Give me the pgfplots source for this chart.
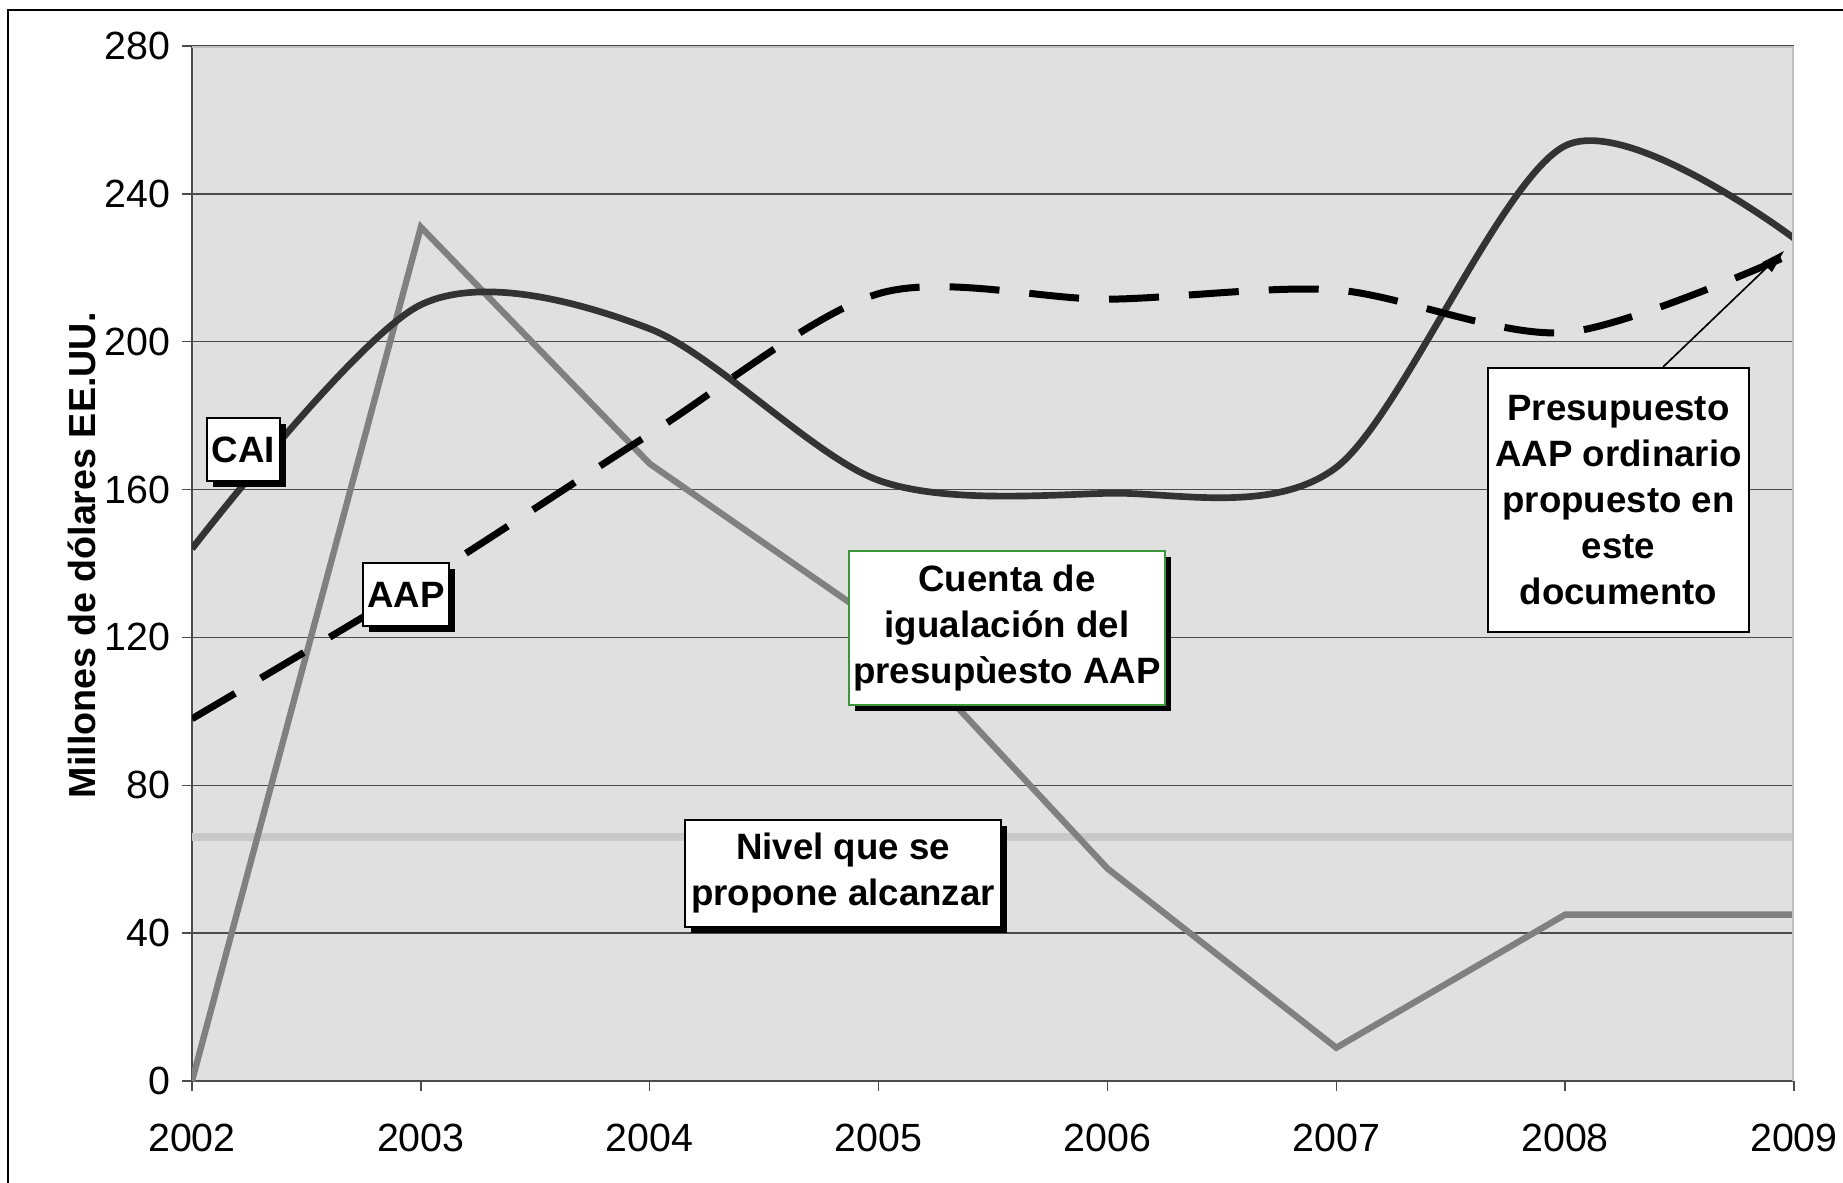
\documentclass[border=0pt]{standalone}
\usepackage{fontspec}
\setmainfont{Liberation Sans}
\usepackage{pgfplots}
\pgfplotsset{compat=1.18}
\usetikzlibrary{arrows.meta}
\definecolor{bgtex}{RGB}{224,224,224}
\definecolor{caic}{RGB}{51,51,51}
\definecolor{cuentac}{RGB}{128,128,128}
\definecolor{nivelc}{RGB}{200,200,200}
\definecolor{bordc}{RGB}{192,192,192}
\definecolor{boxgreen}{RGB}{60,150,60}
\newcommand{\shbox}[6]{%
  \fill[black] (#1+6,#2+6) rectangle (#3+6,#4+6);
  \draw[fill=white, draw=#5, line width=0.45pt] (#1,#2) rectangle (#3,#4);
  \node[align=center, font=\fontsize{11}{13.8}\selectfont\bfseries, inner sep=0pt] at ({(#1+#3)/2},{(#2+#4)/2}) {#6};
}
\begin{document}
\begin{tikzpicture}[x=0.3pt,y=-0.3pt,font=\fontsize{11.3}{13.8}\selectfont]
\useasboundingbox (0,0) rectangle (1843,1182);
\draw[line width=0.6pt] (8,1200) -- (8,10) -- (1870,10);
\begin{axis}[
  at={(57.6pt,-324.3pt)}, anchor=south west,
  scale only axis, width=480.6pt, height=310.5pt,
  xmin=2002, xmax=2009, ymin=0, ymax=280,
  xtick={2002,2003,2004,2005,2006,2007,2008,2009},
  ytick={0,40,80,120,160,200,240,280},
  axis background/.style={fill=bgtex},
  axis x line*=bottom, axis y line*=left,
  axis line style={-, black!70, line width=0.45pt},
  tick align=outside, major tick length=3pt,
  tick style={black!70, line width=0.45pt},
  ymajorgrids, grid style={black!70, line width=0.45pt},
  /pgf/number format/assume math mode=true,
  xticklabel style={/pgf/number format/1000 sep={}, font=\fontsize{11.8}{13.8}\selectfont, yshift=-6.5pt},
  yticklabel style={font=\fontsize{11.8}{13.8}\selectfont},
  ylabel={\bfseries Millones de dólares EE.UU.},
  every axis y label/.style={at={(axis description cs:-0.0687,0.508)}, anchor=center, rotate=90, font=\fontsize{11.3}{13.8}\selectfont},
]
\addplot[nivelc, line width=2.3pt] coordinates {(2002,66) (2009,66)};
\addplot[cuentac, line width=1.9pt] coordinates {(2002,0) (2003,231) (2004,167) (2005,124) (2006,57.5) (2007,9) (2008,45) (2009,45)};
\addplot[caic, line width=2pt, smooth] coordinates {(2002,144) (2003,210) (2004,203.5) (2005,162.5) (2006,159) (2007,166) (2008,253) (2009,228)};
\addplot[black, line width=2.1pt, smooth, dash pattern=on 15pt off 9pt] coordinates {(2002,98) (2003,135) (2004,175) (2005,213) (2006,211.5) (2007,214) (2008,202.5) (2009,224)};
\draw[bordc, line width=0.9pt] (rel axis cs:0,1) -- (rel axis cs:1,1) -- (rel axis cs:1,0);
\end{axis}
\shbox{207}{418}{280}{481}{black}{CAI}
\shbox{363}{563}{449}{626}{black}{AAP}
\shbox{849}{551}{1165}{705}{boxgreen}{Cuenta de\\igualación del\\presupùesto AAP}
\shbox{685}{820}{1001}{927}{black}{Nivel que se\\propone alcanzar}
\draw[fill=white, draw=black, line width=0.45pt] (1488,368) rectangle (1749,632);
\node[align=center, font=\fontsize{11}{13.8}\selectfont\bfseries, inner sep=0pt] at (1618.5,500) {Presupuesto\\AAP ordinario\\propuesto en\\este\\documento};
\draw[-{Triangle[length=7pt,width=4pt]}, line width=0.5pt] (1663,367) -- (1784,251);
\end{tikzpicture}
\end{document}
